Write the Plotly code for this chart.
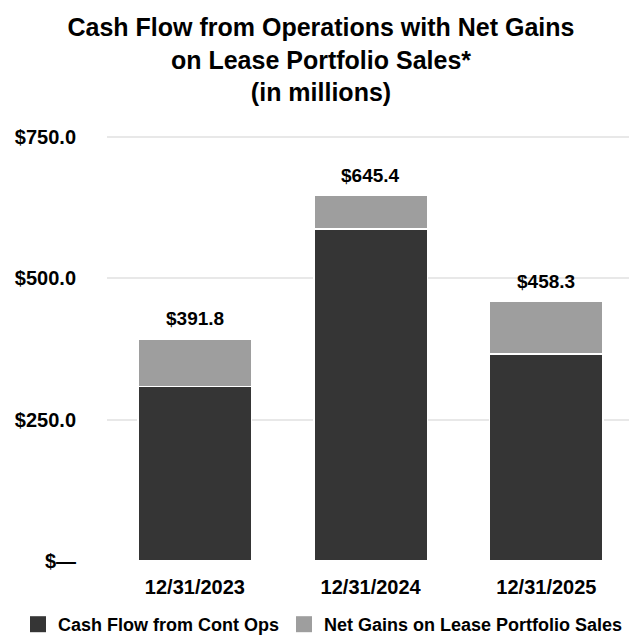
import plotly.graph_objects as go

categories = ["12/31/2023", "12/31/2024", "12/31/2025"]
cash_flow_ops = [308.5, 586.8, 366.1]
net_gains = [83.3, 58.6, 92.2]
totals = [391.8, 645.4, 458.3]
y_tick_vals = [0, 250, 500, 750]
y_tick_text = ["$\u2014", "$250.0", "$500.0", "$750.0"]

DARK = "#353535"
GRAY = "#9e9e9e"
FONT = "Liberation Sans, Arial, sans-serif"

W, H = 629, 637
ML, MR, MT, MB = 107, 0, 119, 76
PW = W - ML - MR
PH = H - MT - MB

fig = go.Figure()
fig.add_trace(go.Bar(
    x=categories, y=cash_flow_ops, name="Cash Flow from Cont Ops",
    marker=dict(color=DARK, line=dict(color="white", width=1.5)),
    showlegend=False, hoverinfo="skip",
))
fig.add_trace(go.Bar(
    x=categories, y=net_gains, name="Net Gains on Lease Portfolio Sales",
    marker=dict(color=GRAY, line=dict(color="white", width=1.5)),
    showlegend=False, hoverinfo="skip",
))
# legend entries
fig.add_trace(go.Scatter(
    x=[None], y=[None], mode="markers", name="Cash Flow from Cont Ops",
    marker=dict(symbol="square", size=17, color=DARK),
))
fig.add_trace(go.Scatter(
    x=[None], y=[None], mode="markers", name="Net Gains on Lease Portfolio Sales",
    marker=dict(symbol="square", size=17, color=GRAY),
))

for c, t in zip(categories, totals):
    fig.add_annotation(
        x=c, y=t, text=f"${t:,.1f}", showarrow=False,
        yanchor="bottom", yshift=8,
        font=dict(family=FONT, size=19, color="black", weight="bold"),
    )

fig.update_layout(
    width=W, height=H,
    margin=dict(l=ML, r=MR, t=MT, b=MB, autoexpand=False),
    paper_bgcolor="white", plot_bgcolor="white",
    barmode="stack", bargap=0.354,
    title=dict(
        text="Cash Flow from Operations with Net Gains<br>on Lease Portfolio Sales*<br>(in millions)",
        x=321 / W, xanchor="center", xref="container",
        y=1 - 36 / H, yanchor="top", yref="container",
        font=dict(family=FONT, size=25, color="black", weight="bold"),
    ),
    legend=dict(
        orientation="h", xref="paper", yref="paper",
        x=(18 - ML) / PW, xanchor="left",
        y=((H - MB) - 606) / PH, yanchor="top",
        font=dict(family=FONT, size=18, color="black", weight="bold"),
        itemsizing="trace", traceorder="normal",
        bgcolor="rgba(0,0,0,0)",
    ),
    showlegend=True,
)
fig.update_xaxes(
    type="category", range=[-0.5, 2.47], showgrid=False, zeroline=False,
    showline=False, ticks="", ticklabelstandoff=12,
    tickfont=dict(family=FONT, size=20, color="black", weight="bold"),
)
fig.update_yaxes(
    range=[0, 781], tickvals=y_tick_vals, ticktext=y_tick_text,
    showgrid=True, gridcolor="#e8e8e8", gridwidth=1.5, zeroline=False,
    showline=False, ticks="", ticklabelstandoff=30,
    tickfont=dict(family=FONT, size=20, color="black", weight="bold"),
)

fig.write_html("out.html")
